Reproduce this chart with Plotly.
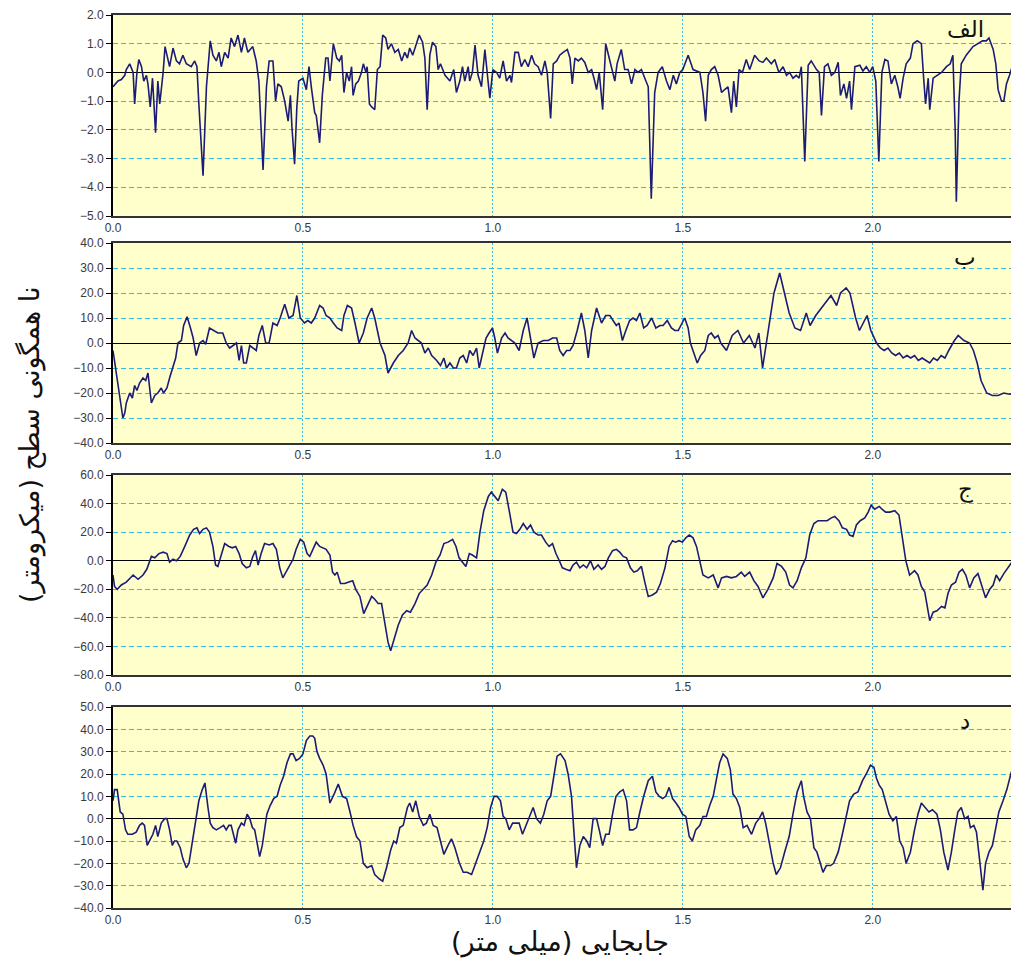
import plotly.graph_objects as go

# ---------------- data ----------------
x_a = [0.0,0.013,0.022,0.031,0.035,0.044,0.053,0.057,0.063,0.068,0.075,0.081,0.088,0.092,0.098,0.104,0.112,0.118,0.123,0.132,
       0.137,0.145,0.149,0.158,0.167,0.175,0.184,0.193,0.206,0.215,0.221,0.226,0.237,0.246,0.256,0.263,0.272,0.279,0.285,0.294,
       0.303,0.311,0.32,0.329,0.338,0.346,0.355,0.368,0.377,0.384,0.395,0.404,0.411,0.421,0.428,0.434,0.443,0.452,0.461,0.467,
       0.471,0.478,0.484,0.489,0.5,0.509,0.516,0.522,0.531,0.535,0.544,0.551,0.56,0.566,
       0.571,0.58,0.589,0.596,0.602,0.608,0.615,0.622,0.628,0.632,0.639,0.646,0.654,0.659,0.666,0.669,0.675,0.681,0.689,0.696,
       0.703,0.71,0.718,0.724,0.733,0.742,0.751,0.76,0.768,0.775,0.781,0.789,0.797,0.806,0.815,0.821,0.827,0.834,0.841,0.85,
       0.856,0.862,0.874,0.887,0.897,0.904,0.913,0.92,0.926,0.935,0.939,0.946,0.953,0.961,0.97,0.979,0.988,0.992,1.0,1.01,
       1.018,1.027,1.036,1.045,1.049,1.058,1.067,1.075,1.084,1.093,1.102,1.11,1.119,1.128,1.137,1.143,1.152,1.159,1.168,1.176,
       1.185,1.196,1.203,1.209,1.216,1.225,1.233,1.242,1.251,1.26,1.268,1.273,1.28,1.289,1.297,1.306,1.313,1.321,1.327,1.338,
       1.347,1.356,1.365,1.374,1.382,1.391,1.4,1.409,1.417,1.426,1.435,1.446,1.457,1.466,1.475,1.483,1.492,1.5,1.514,1.527,
       1.545,1.553,1.56,1.567,1.575,1.584,1.593,1.602,1.61,1.619,1.628,1.634,1.641,1.648,1.657,1.667,1.676,1.689,1.701,1.711,
       1.72,1.733,1.742,1.753,1.764,1.773,1.781,1.79,1.799,1.806,1.812,1.821,1.83,1.838,1.852,1.859,1.865,1.873,1.882,1.891,
       1.9,1.909,1.915,1.924,1.931,1.939,1.944,1.953,1.966,1.974,1.983,1.992,2.0,2.008,2.016,2.024,2.032,2.04,2.049,2.058,
       2.066,2.072,2.08,2.088,2.099,2.106,2.117,2.128,2.134,2.139,2.146,2.15,2.159,2.17,2.181,2.194,2.204,2.211,2.217,2.22,
       2.227,2.233,2.246,2.264,2.277,2.289,2.299,2.306,2.317,2.324,2.33,2.339,2.345,2.352,2.36,2.367,2.374,2.385]
y_a = [-0.5,-0.3,-0.25,-0.1,0.1,0.3,0.0,-1.1,0.0,0.45,0.2,-0.3,-0.1,-0.4,-1.2,-0.2,-2.1,-0.3,-1.1,0.0,
       0.9,0.5,0.2,0.85,0.4,0.3,0.6,0.3,0.2,0.4,0.2,-1.1,-3.6,-0.5,1.1,0.6,0.4,0.7,0.2,0.7,
       0.5,1.2,0.9,1.3,0.7,1.2,0.7,0.9,0.4,-0.3,-3.4,-0.5,0.4,0.4,-1.0,-0.4,-0.5,-1.0,-1.7,-0.8,
       -1.9,-3.2,-1.2,-0.3,-0.2,-0.6,0.2,-0.5,-1.4,-1.5,-2.45,-0.8,0.5,0.5,
       -0.3,1.0,0.5,0.4,0.6,-0.7,0.0,-0.3,0.2,-0.8,-0.4,-0.3,0.0,0.3,0.0,0.2,-1.1,-1.2,-1.3,0.1,
       0.2,1.3,1.2,0.8,1.0,0.7,0.8,0.4,0.7,0.5,0.85,0.6,0.9,1.3,1.05,0.5,-1.3,0.6,1.05,0.9,
       0.1,0.3,-0.1,-0.3,0.1,-0.7,-0.3,0.2,-0.3,0.2,-0.3,0.0,0.95,-0.1,-0.5,0.8,-0.4,-0.9,0.1,0.0,
       -0.2,0.4,-0.3,-0.1,-0.35,0.7,0.7,0.2,0.45,0.2,0.6,0.3,0.2,-0.1,0.4,0.0,-1.6,0.3,0.4,0.6,
       0.7,0.8,0.5,-0.4,0.5,0.4,0.5,0.35,0.0,0.1,-0.3,-0.6,0.0,-1.3,1.0,0.5,0.1,-0.3,0.3,0.8,
       0.1,0.1,-0.4,0.1,0.0,0.1,-0.2,-0.5,-4.4,-0.7,0.0,0.2,-0.3,-0.6,-0.1,-0.4,0.0,0.1,0.6,0.1,
       0.0,-0.7,-1.7,-0.1,0.1,0.2,-0.1,-0.7,-0.6,-0.5,-1.4,-0.3,-1.2,0.1,0.0,0.45,0.1,0.6,0.4,0.35,
       0.5,0.3,0.45,0.0,0.2,-0.1,0.0,-0.2,-0.1,-0.2,0.2,-3.1,0.25,0.4,0.1,0.0,-1.5,0.2,0.3,-0.1,
       0.0,0.35,-0.8,-0.4,-0.9,-0.3,-1.3,0.2,0.25,0.05,0.2,0.0,0.2,-0.3,-3.1,0.0,0.45,0.4,-0.4,-0.1,
       -0.5,-0.9,-0.2,0.3,0.5,1.0,1.1,1.0,-0.2,-1.1,-0.2,-1.3,-0.2,-0.1,0.0,0.2,0.3,0.6,-2.0,-4.5,
       -1.0,0.3,0.6,0.9,1.0,1.1,1.1,1.2,0.8,0.3,-0.6,-1.0,-1.0,-0.4,-0.1,0.2,0.4,0.5]

x_b = [0.0,0.004,0.009,0.016,0.022,0.026,0.031,0.035,0.044,0.051,0.057,0.063,0.07,0.079,0.086,0.092,0.101,0.11,0.118,0.127,
       0.133,0.142,0.149,0.158,0.165,0.171,0.18,0.186,0.195,0.204,0.211,0.219,0.228,0.237,0.244,0.254,0.265,0.276,0.289,0.298,
       0.307,0.316,0.325,0.332,0.338,0.344,0.351,0.36,0.368,0.377,0.384,0.393,0.402,0.411,0.421,0.432,0.44,0.452,0.463,0.474,
       0.484,0.493,0.504,0.513,0.522,0.531,0.544,0.553,0.561,
       0.571,0.58,0.59,0.602,0.608,0.617,0.628,0.637,0.648,0.659,0.669,0.681,0.689,0.703,0.716,0.724,0.738,0.751,0.764,0.777,
       0.786,0.795,0.803,0.812,0.821,0.83,0.839,0.852,0.862,0.871,0.878,0.887,0.896,0.904,0.913,0.922,0.931,0.939,0.948,0.957,
       0.964,0.973,0.982,0.99,0.999,1.005,1.012,1.023,1.032,1.04,1.049,1.058,1.069,1.08,1.09,1.099,1.108,1.119,1.133,1.146,
       1.157,1.168,1.176,1.185,1.194,1.203,1.211,1.222,1.233,1.242,1.251,1.26,1.273,1.286,1.297,1.308,1.317,1.325,1.332,1.341,
       1.35,1.36,1.369,1.378,1.387,1.397,1.406,1.418,1.429,1.44,1.448,1.459,1.47,1.479,1.488,1.497,1.505,1.514,1.52,1.529,
       1.538,1.547,1.558,1.567,1.575,1.584,1.593,
       1.6,1.615,1.63,1.645,1.66,1.675,1.69,1.7,1.71,1.725,1.74,1.755,1.765,1.78,1.795,1.81,1.825,1.835,1.85,1.87,
       1.89,1.905,1.915,1.93,1.94,1.955,1.965,1.975,1.985,1.995,2.01,2.02,2.03,2.04,2.05,2.06,2.07,2.08,2.09,2.1,
       2.11,2.12,2.13,2.14,2.15,2.16,2.17,2.18,2.19,2.2,2.215,2.225,2.24,2.255,2.265,2.275,2.285,2.3,2.315,2.33,
       2.345,2.36,2.372,2.385]
y_b = [-3,-7,-12,-20,-25,-30,-28,-24,-20,-22,-17,-19,-16,-14,-15,-12,-24,-21,-20,-18,
       -20,-18,-14,-9,-6,0,1,7,10.5,6,2,-5,0,1,-0.5,6,5,4,4,0,
       -2,-1,0,-7,-1,-8,-8,-1,-2,-3,3,7,0,0,8,7,10,15.5,10,11,
       19,10,8,9,8,10,15,14,11,
       10,8,6,5,11,15,14,8,0,4,10,14,10,0,-5,-12,-8,-5,-3,0,
       5,2,1,0,-4,-2,-5,-7,-9,-6,-10,-8,-10,-10,-6,-5,-8,-3,-5,-2,
       -10,-4,2,4,6,2,-4,2,4,2,1,0,-3,5,10,2,-6,0,1,1,
       2,2,-3,-5,-3,-3,-1,5,12,5,-6,5,14,8,11,11,9,7,8,1,
       5,9,10,9,12,6,7,10,6,7,7,9,6,5,5,8,10,6,0,-4,
       -8,-5,-3,3,4,2,3,
       0,-3,3,5,0,3,-2,4,-10,5,20,28,22,12,6,5,12,7,11,15,
       19,15,20,22,20,10,5,8,11,5,0,-2,-3,-2,-4,-5,-4,-6,-5,-6,
       -5,-7,-6,-7,-8,-6,-7,-5,-6,-3,1,3,1,0,-3,-8,-15,-20,-21,-21,
       -20,-20.5,-20,-21]

x_c = [0.0,0.004,0.011,0.022,0.035,0.053,0.066,0.079,0.089,0.101,0.11,0.121,0.132,0.142,0.149,0.158,0.167,0.177,0.189,0.202,
       0.212,0.221,0.228,0.237,0.246,0.254,0.263,0.27,0.276,0.285,0.294,0.305,0.314,0.323,0.332,0.34,0.351,0.36,0.368,0.375,
       0.382,0.39,0.399,0.411,0.421,0.43,0.439,0.447,0.456,0.465,0.474,0.482,0.493,0.502,0.511,0.518,0.526,0.535,0.544,0.553,
       0.561,
       0.571,0.578,0.584,0.59,0.599,0.61,0.619,0.631,0.639,0.65,0.66,0.672,0.681,0.689,0.698,0.707,0.716,0.724,0.731,0.739,
       0.751,0.762,0.773,0.783,0.795,0.806,0.817,0.827,0.839,0.85,0.861,0.871,0.882,0.894,0.903,0.911,0.92,0.929,0.938,0.946,
       0.957,0.966,0.976,0.988,0.996,1.005,1.014,1.025,1.034,1.043,1.053,1.062,1.071,1.08,1.09,1.099,1.108,1.119,1.128,1.139,
       1.148,1.157,1.166,1.175,1.183,1.192,1.203,1.211,1.22,1.229,1.238,1.247,1.257,1.266,1.277,1.286,1.295,1.304,1.315,1.325,
       1.334,1.343,1.352,1.362,1.371,1.38,1.391,1.4,1.409,1.42,1.431,1.441,1.453,1.464,1.473,1.481,1.49,1.499,1.508,1.517,
       1.527,1.536,
       1.553,1.567,1.58,1.593,1.602,1.615,1.628,1.641,1.654,1.663,1.676,1.687,1.698,1.711,1.724,1.738,1.748,1.76,1.771,1.781,
       1.79,1.801,1.812,1.824,1.834,1.845,1.856,1.869,1.88,1.891,1.9,1.911,1.92,1.931,1.939,1.948,1.957,1.967,1.979,1.988,
       1.996,2.005,2.017,2.025,2.034,2.045,2.058,2.069,2.078,2.087,2.097,2.11,2.119,2.128,2.137,2.143,2.15,2.159,2.169,2.181,
       2.19,2.198,2.207,2.218,2.227,2.236,2.245,2.255,2.266,2.277,2.286,2.297,2.308,2.317,2.325,2.334,2.345,2.356,2.369,2.385]
y_c = [-10,-18,-20,-17,-15,-10,-13,-10,-6,3,2,5,6,5,-1,1,0,3,10,18,
       22,23,19,22,23,20,10,-3,-4,5,12,10,9,10,5,-2,-5,-4,3,7,
       -3,5,12,11,12,8,-5,-12,-8,-3,1,8,15,13,5,3,8,13,10,9,
       8,
       4,-8,-10,-8,-16,-16,-15,-14,-20,-25,-37,-30,-25,-27,-30,-30,-45,-57,-63,-55,
       -45,-38,-35,-36,-30,-23,-20,-17,-10,-1,4,12,13,15,10,2,-1,-4,5,4,
       2,20,35,45,48,45,42,50,48,35,20,19,22,26,22,25,20,18,18,13,
       10,12,5,0,-5,-6,-7,-3,-1,-5,-3,-5,0,-6,-3,-6,-4,2,7,8,
       6,3,2,-5,-8,-7,-4,-15,-25,-24,-22,-16,-5,10,14,13,14,13,16,18,
       16,10,
       -10,-12,-10,-19,-12,-11,-12,-11,-8,-11,-8,-14,-18,-26,-20,-12,-2,-4,-8,-17,
       -19,-14,-5,2,18,26,28,28,28,30,31,28,23,22,18,17,25,28,30,34,
       39,36,38,36,34,34,35,32,15,0,-10,-7,-10,-18,-22,-32,-42,-36,-35,-32,
       -33,-23,-17,-15,-8,-6,-10,-19,-12,-9,-16,-26,-20,-17,-10,-14,-9,-5,0,-2]

x_d = [0.0,0.004,0.011,0.016,0.019,0.026,0.033,0.039,0.051,0.061,0.07,0.077,0.083,0.09,0.098,0.105,0.112,0.118,0.127,0.136,
       0.142,0.149,0.156,0.162,0.168,0.177,0.184,0.193,0.2,0.209,0.218,0.226,0.235,0.242,0.25,0.256,0.263,0.272,0.282,0.291,
       0.298,0.305,0.311,0.318,0.323,0.329,0.338,0.345,0.353,0.36,0.367,0.373,0.379,0.386,0.393,0.399,0.405,0.414,0.423,0.432,
       0.44,0.449,0.458,0.467,0.474,0.482,0.491,0.5,0.509,0.518,0.526,0.531,0.537,0.544,0.553,0.561,
       0.571,0.582,0.593,0.604,0.615,0.624,0.632,0.641,0.65,0.659,0.669,0.681,0.689,0.701,0.71,0.72,0.731,0.739,0.746,0.755,
       0.764,0.775,0.781,0.789,0.797,0.806,0.817,0.825,0.834,0.843,0.853,0.862,0.871,0.882,0.891,0.9,0.912,0.922,0.932,0.944,
       0.955,0.966,0.976,0.985,0.994,1.003,1.011,1.02,1.027,1.034,1.043,1.052,1.06,1.069,1.078,1.089,1.097,1.106,1.115,1.125,
       1.134,1.143,1.152,1.16,1.169,1.178,1.19,1.198,1.207,1.213,1.22,1.229,1.238,1.247,1.255,1.264,1.273,1.28,1.289,1.297,
       1.306,1.315,1.324,1.334,1.343,1.352,1.36,1.369,1.378,1.387,1.397,1.409,1.42,1.429,1.438,1.447,1.455,1.464,1.473,1.482,
       1.49,1.499,1.508,1.517,1.525,1.534,
       1.545,1.553,1.562,1.571,1.58,1.589,1.597,1.606,1.617,1.625,1.632,1.641,1.65,1.659,1.669,1.681,1.692,1.701,1.71,1.718,
       1.729,1.738,1.746,1.757,1.768,1.78,1.79,1.801,1.812,1.818,1.827,1.836,1.845,1.853,1.862,1.869,1.878,1.889,1.897,1.909,
       1.92,1.931,1.939,1.95,1.961,1.973,1.983,1.994,2.003,2.01,2.017,2.025,2.034,2.043,2.053,2.062,2.071,2.08,2.088,2.099,
       2.11,2.119,2.128,2.137,2.148,2.157,2.169,2.178,2.187,2.198,2.207,2.216,2.224,2.233,2.242,2.251,2.257,2.266,2.273,2.281,
       2.29,2.297,2.306,2.315,2.324,2.332,2.343,2.353,2.365,2.374,2.385]
y_d = [8,13,13,8,3,2,-5,-7,-7,-6,-3,-2,-3,-12,-9,-7,-3,-8,-2,0,
       0,-5,-12,-10,-10,-13,-18,-22,-20,-10,0,8,13,16,5,-2,-4,-5,-4,-3,
       -5,-3,-3,-7,-11,-5,-2,-3,2,0,-4,-5,-10,-17,-12,-5,2,6,9,10,
       15,19,25,29,29,26,27,29,35,37,37,36,30,27,24,20,
       7,11,15.5,10,9,3,-3,-8,-10,-20,-22,-21,-25,-27,-28,-22,-14,-10,-11,-4,
       -3,5,7,3,8,1,-3,-2,2,-3,-4,-10,-16,-12,-9,-13,-20,-24,-24,-25,
       -20,-15,-10,-4,5,10,10,8,1,0,-5,-2,-2,-2,-7,-2,1,5,0,-2,
       2,8,10,18,28,29,26,20,10,-5,-22,-12,-8,-10,-13,0,0,-5,-12,-7,
       -7,2,10,12,13,8,-5,-5,-4,3,10,17,19,12,10,9,10,14,9,7,
       5,2,1,-8,-10,-5,
       -3,1,1,6,10,18,25,29,27,22,11,9,5,-4,-3,-7,-2,0,3,-2,
       -12,-20,-25,-22,-15,-8,2,12,17,10,3,0,-13,-15,-20,-24,-21,-21,-20,-15,
       -7,2,8,11,12,17,20,24,23,18,15,13,7,2,-1,1,-10,-13,-20,-15,
       -5,2,7,5,3,4,2,-5,-15,-23,-15,-5,3,5,0,1,-4,-3,-6,-18,
       -32,-20,-15,-12,-3,3,8,13,21,19,15]

panel_labels = ["الف", "ب", "ج", "د"]
y_ranges = [[-5, 2], [-40, 40], [-80, 60], [-40, 50]]
y_dticks = [1, 10, 20, 10]
x_ticks = [0.0, 0.5, 1.0, 1.5, 2.0]
x_title = "جابجایی (میلی متر)"
y_title = "نا همگونی سطح (میکرومتر)"

series = [(x_a, y_a), (x_b, y_b), (x_c, y_c), (x_d, y_d)]

# ---------------- layout geometry (page has an 8px body margin) ----------------
OFF = 8
W, H = 1019 - OFF, 963 - OFF
ML, MR = 113 - OFF, 0
panel_ref = [(15, 216), (243, 443), (475, 675), (707, 908)]   # top, bottom on the page
panel_px = [(t - OFF, b - OFF) for t, b in panel_ref]
MT = panel_px[0][0]
MB = H - panel_px[-1][1]
plot_h = H - MT - MB
plot_w = W - ML - MR

def fy(py_page):
    return (H - MB - (py_page - OFF)) / plot_h

def fx(px_page):
    return (px_page - OFF - ML) / plot_w

RLM = "\u200f"

fig = go.Figure()
grid_col = "#33bde0"
line_col = "#1c1c78"
tick_font = dict(family="Liberation Sans, Arial", size=12, color="#3a3a3a")

for i, (xs, ys) in enumerate(series):
    n = i + 1
    xa = "x" if n == 1 else f"x{n}"
    ya = "y" if n == 1 else f"y{n}"
    fig.add_trace(go.Scatter(x=xs, y=ys, mode="lines", xaxis=xa, yaxis=ya,
                             line=dict(color=line_col, width=1.6), showlegend=False,
                             hoverinfo="skip"))
    top, bot = panel_ref[i]
    xkey = "xaxis" if n == 1 else f"xaxis{n}"
    ykey = "yaxis" if n == 1 else f"yaxis{n}"
    fig.layout[xkey] = dict(
        domain=[0, 1], anchor=ya, range=[0, 2.385],
        tickvals=x_ticks, ticktext=[f"{v:.1f}" for v in x_ticks],
        showgrid=True, gridcolor=grid_col, griddash="2px,2px", gridwidth=1,
        zeroline=False, showline=True, linecolor="#333333", linewidth=1.5, mirror=True,
        ticks="", tickfont=tick_font, fixedrange=True,
    )
    fig.layout[ykey] = dict(
        domain=[fy(bot), fy(top)], anchor=xa, range=y_ranges[i], dtick=y_dticks[i],
        tick0=0, tickformat=".1f",
        showgrid=True, gridcolor=grid_col, griddash="5px,3px", gridwidth=1,
        zeroline=True, zerolinecolor="#000000", zerolinewidth=1,
        showline=True, linecolor="#000000", linewidth=2,
        ticks="outside", ticklen=5, tickcolor="#000000", tickwidth=1,
        tickfont=tick_font, fixedrange=True,
    )
    fig.add_annotation(text=panel_labels[i], xref="paper", yref="paper",
                       x=fx(965), y=fy(top + 14),
                       showarrow=False, xanchor="center", yanchor="middle",
                       font=dict(family="DejaVu Sans", size=23, color="#111111"))

fig.add_annotation(text=RLM + y_title + RLM, xref="paper", yref="paper",
                   x=fx(30), y=fy(445), textangle=-90,
                   showarrow=False, xanchor="center", yanchor="middle",
                   font=dict(family="DejaVu Sans", size=27, color="#111111"))
fig.add_annotation(text=RLM + x_title + RLM, xref="paper", yref="paper",
                   x=fx(560), y=fy(942),
                   showarrow=False, xanchor="center", yanchor="middle",
                   font=dict(family="DejaVu Sans", size=27, color="#111111"))

fig.update_layout(width=W, height=H, margin=dict(l=ML, r=MR, t=MT, b=MB),
                  paper_bgcolor="white", plot_bgcolor="#ffffcc")

fig.write_html("out.html")
